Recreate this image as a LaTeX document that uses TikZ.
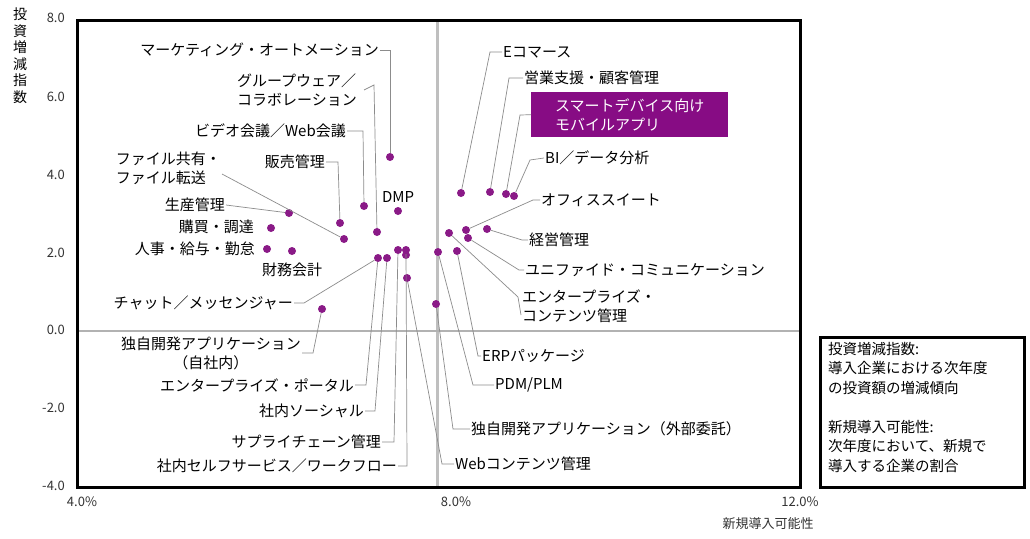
\documentclass[tikz,border=0pt]{standalone}
\usepackage{fontspec}
\setmainfont{Noto Sans CJK JP}
\begin{document}
\begin{tikzpicture}[x=1pt,y=-1pt,
  dot/.style={circle,fill=dotc,inner sep=0pt,minimum size=8pt},
  lbl/.style={inner sep=1pt,font=\fontsize{15}{19}\selectfont,align=left},
  tick/.style={inner sep=1pt,font=\fontsize{13}{15}\selectfont,text=black!80},
  lead/.style={draw=black!45,line width=0.7pt}]
\definecolor{dotc}{HTML}{8A1A87}
\definecolor{boxc}{HTML}{870C84}
\useasboundingbox[fill=white] (0,0) rectangle (1030,538);
% grid lines
\draw[black!25,line width=3pt] (437,20) -- (437,487);
\draw[black!30,line width=2pt] (77,331) -- (800,331);
\draw[line width=3pt] (77,20) rectangle (800,487);
% ticks
\node[tick,anchor=east] (t8) at (66,18) {8.0};
\node[tick,anchor=east] (t6) at (66,97) {6.0};
\node[tick,anchor=east] (t4) at (66,175) {4.0};
\node[tick,anchor=east] (t2) at (66,253) {2.0};
\node[tick,anchor=east] (t0) at (66,330) {0.0};
\node[tick,anchor=east] (tm2) at (66,408) {-2.0};
\node[tick,anchor=east] (tm4) at (66,486) {-4.0};
\node[tick] (x4) at (82,502) {4.0\%};
\node[tick] (x8) at (456,502) {8.0\%};
\node[tick] (x12) at (800,502) {12.0\%};
\node[tick] (xt) at (768,524) {新規導入可能性};
\node[inner sep=0pt,font=\fontsize{14}{16.5}\selectfont,align=center,anchor=north] (yt) at (20,8) {投\\資\\増\\減\\指\\数};
% legend
\node[draw,line width=2.5pt,minimum width=204pt,minimum height=150pt,anchor=north west] (leg) at (819,336) {};
\node[lbl,anchor=north west,font=\fontsize{14.5}{19.5}\selectfont] (legt) at (827,341) {投資増減指数:\\導入企業における次年度\\の投資額の増減傾向\\[19.5pt]新規導入可能性:\\次年度において、新規で\\導入する企業の割合};
% dots
\node[dot] (ma) at (390,157) {};
\node[dot] (dmp) at (398,211) {};
\node[dot] (vid) at (364,206) {};
\node[dot] (han) at (340,223) {};
\node[dot] (grp) at (377,232) {};
\node[dot] (fil) at (344,239) {};
\node[dot] (sei) at (289,213) {};
\node[dot] (kob) at (271,228) {};
\node[dot] (jin) at (267,249) {};
\node[dot] (zai) at (292,251) {};
\node[dot] (cha) at (378,258) {};
\node[dot] (soc) at (387,258) {};
\node[dot] (sup) at (398,250) {};
\node[dot] (sel) at (406,250) {};
\node[dot] (ex2) at (406,255) {};
\node[dot] (web) at (407,278) {};
\node[dot] (own) at (322,309) {};
\node[dot] (ext) at (436,304) {};
\node[dot] (pdm) at (438,252) {};
\node[dot] (erp) at (457,251) {};
\node[dot] (ecp) at (449,233) {};
\node[dot] (uni) at (468,238) {};
\node[dot] (off) at (466,230) {};
\node[dot] (kei) at (487,229) {};
\node[dot] (ec) at (461,193) {};
\node[dot] (eig) at (490,192) {};
\node[dot] (sma) at (506,194) {};
\node[dot] (bi) at (514,196) {};
% labels left
\node[lbl,anchor=east] (maL) at (380,50) {マーケティング・オートメーション};
\node[lbl,anchor=east] (grpL) at (358,90) {グループウェア／\\コラボレーション};
\node[lbl,anchor=east] (vidL) at (347,131) {ビデオ会議／Web会議};
\node[lbl,anchor=east] (hanL) at (326,162) {販売管理};
\node[lbl,anchor=east] (filL) at (222,168) {ファイル共有・\\ファイル転送};
\node[lbl,anchor=east] (seiL) at (226,205) {生産管理};
\node[lbl,anchor=east] (kobL) at (255,227) {購買・調達};
\node[lbl,anchor=east] (jinL) at (256,249) {人事・給与・勤怠};
\node[lbl] (zaiL) at (292,270) {財務会計};
\node[lbl] (dmpL) at (398,197) {DMP};
\node[lbl,anchor=east] (chaL) at (294,303) {チャット／メッセンジャー};
\node[lbl,anchor=east,align=center] (ownL) at (302,353) {独自開発アプリケーション\\（自社内）};
\node[lbl,anchor=east] (porL) at (355,385) {エンタープライズ・ポータル};
\node[lbl,anchor=east] (socL) at (365,411) {社内ソーシャル};
\node[lbl,anchor=east] (supL) at (382,442) {サプライチェーン管理};
\node[lbl,anchor=east] (selL) at (398,466) {社内セルフサービス／ワークフロー};
% labels right
\node[lbl,anchor=west] (erpL) at (481,356) {ERPパッケージ};
\node[lbl,anchor=west] (pdmL) at (494,385) {PDM/PLM};
\node[lbl,anchor=west] (extL) at (470,429) {独自開発アプリケーション（外部委託）};
\node[lbl,anchor=west] (webL) at (454,464) {Webコンテンツ管理};
\node[lbl,anchor=west] (ecL) at (502,52) {Eコマース};
\node[lbl,anchor=west] (eigL) at (523,78) {営業支援・顧客管理};
\node[fill=boxc,text=white,lbl,anchor=north west,minimum width=197pt,minimum height=45pt,inner xsep=6pt] (smaL) at (531,92) {スマートデバイス向け\\モバイルアプリ};
\node[lbl,anchor=west] (biL) at (544,158) {BI／データ分析};
\node[lbl,anchor=west] (offL) at (540,200) {オフィススイート};
\node[lbl,anchor=west] (keiL) at (528,240) {経営管理};
\node[lbl,anchor=west] (uniL) at (524,270) {ユニファイド・コミュニケーション};
\node[lbl,anchor=west] (ecpL) at (521,306) {エンタープライズ・\\コンテンツ管理};
% leaders
\draw[lead] (ma) -- (390,50) -- (maL.east);
\draw[lead] (grp) -- (374,85) -- ([xshift=6pt]grpL.east);
\draw[lead] (vid) -- (363,131) -- (vidL.east);
\draw[lead] (han) -- (338,162) -- (hanL.east);
\draw[lead] (fil) -- ([yshift=-6pt]filL.east);
\draw[lead] (sei) -- (seiL.east);
\draw[lead] (cha) -- ([xshift=10pt]chaL.east) -- (chaL.east);
\draw[lead] (own) -- (313,353) -- (ownL.east);
\draw[lead] (cha) -- (366,385) -- (porL.east);
\draw[lead] (soc) -- (375,411) -- (socL.east);
\draw[lead] (sup) -- (394,442) -- (supL.east);
\draw[lead] (sel) -- (407,466) -- (selL.east);
\draw[lead] (web) -- (442,464) -- (webL.west);
\draw[lead] (ext) -- (453,429) -- (extL.west);
\draw[lead] (pdm) -- (473,385) -- (pdmL.west);
\draw[lead] (erp) -- (478,356) -- (erpL.west);
\draw[lead] (ec) -- (490,52) -- (ecL.west);
\draw[lead] (eig) -- (509,78) -- (eigL.west);
\draw[lead] (sma) -- (520,115) -- (smaL.west);
\draw[lead] (bi) -- (530,160) -- (biL.west);
\draw[lead] (off) -- (533,200) -- (offL.west);
\draw[lead] (kei) -- (522,240) -- (keiL.west);
\draw[lead] (uni) -- (519,270) -- (uniL.west);
\draw[lead] (ecp) -- (518,297) -- ([yshift=-9pt]ecpL.west);
\end{tikzpicture}
\end{document}
